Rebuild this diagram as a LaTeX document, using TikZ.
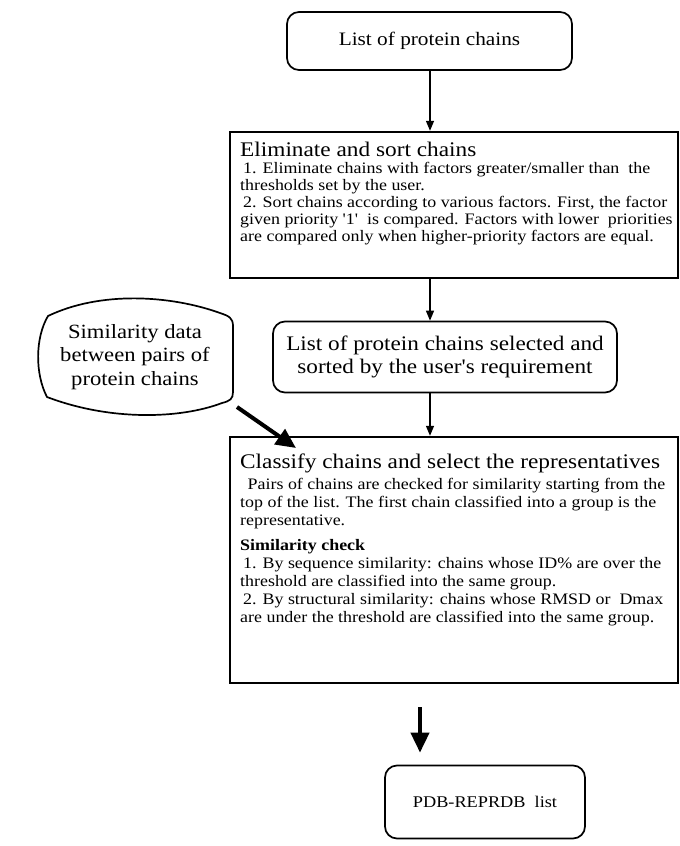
\documentclass[tikz,border=0pt]{standalone}
\usepackage{fontspec}
\setmainfont{Liberation Serif}[Ligatures=TeXOff, FakeStretch=1.12]
\usetikzlibrary{arrows.meta}
\begin{document}
\begin{tikzpicture}[x=1pt,y=-1pt,
  roundbox/.style={draw, line width=1.7pt, rounded corners=12pt, inner sep=0pt},
  squarebox/.style={draw, line width=2.4pt, inner sep=0pt},
  titlefont/.style={font=\fontsize{20.8}{24}\selectfont},
  bodyfont/.style={font=\fontsize{16}{17}\selectfont},
  txt/.style={inner sep=0pt, align=left, anchor=north west},
  thin/.style={line width=1.3pt, -{Triangle[length=10pt,width=8pt]}},
  thick/.style={line width=4pt, -{Triangle[length=20pt,width=18pt]}}
]
\useasboundingbox (0,0) rectangle (680,846);

% top box
\node[roundbox, font=\fontsize{19}{22}\selectfont, minimum width=285pt, minimum height=58pt] (b1) at (429.5,41) {List of protein chains};

% eliminate box
\node[squarebox, minimum width=448pt, minimum height=146pt] (b2) at (454,205) {};
\node[txt, titlefont] (b2t) at (240,141.5) {Eliminate and sort chains};
\node[txt, bodyfont] (b2b) at (240,162) {\hspace{3pt}1. Eliminate chains with factors greater/smaller than\ \ the\\
thresholds set by the user.\\
\hspace{3pt}2. Sort chains according to various factors. First, the factor\\
given priority '1'\ \ is compared. Factors with lower\ \ priorities\\
are compared only when higher-priority factors are equal.};

% selected list box
\node[roundbox, font=\fontsize{20.7}{23}\selectfont, align=center, minimum width=344pt, minimum height=71pt] (b3) at (445,357) {List of protein chains selected and\\ sorted by the user's requirement};

% similarity data (stored data)
\node[inner sep=0pt, minimum width=193pt, minimum height=120pt] (sd) at (137,356) {};
\draw[line width=1.7pt] (233,392) -- (233,326)
  .. controls (233,318) and (229,316) .. (220,313)
  .. controls (170,295) and (100,291) .. (48,316)
  .. controls (35,338) and (35,374) .. (47,397)
  .. controls (110,421) and (180,419) .. (222,403)
  .. controls (230,401) and (233,399) .. cycle;
\node[font=\fontsize{20.2}{23.5}\selectfont, align=center, inner sep=0pt] (sdt) at (135,357) {Similarity data\\ between pairs of\\ protein chains};

% classify box
\node[squarebox, minimum width=448pt, minimum height=246pt] (b4) at (454,560) {};
\node[txt, titlefont] (b4t) at (240,454) {Classify chains and select the representatives};
\node[txt, font=\fontsize{16}{18}\selectfont] (b4b) at (240,478) {\hspace{3pt}\ Pairs of chains are checked for similarity starting from the\\
top of the list. The first chain classified into a group is the\\
representative.\\[7pt]
\textbf{Similarity check}\\
\hspace{3pt}1. By sequence similarity: chains whose ID\% are over the\\
threshold are classified into the same group.\\
\hspace{3pt}2. By structural similarity: chains whose RMSD or\ \ Dmax\\
are under the threshold are classified into the same group.};

% final box
\node[roundbox, font=\fontsize{16.3}{20}\selectfont, minimum width=200pt, minimum height=73pt] (b5) at (485,802) {PDB-REPRDB\ \ list};

% connectors
\draw[thin] (b1.south -| 430,0) -- (b2.north -| 430,0);
\draw[thin] (b2.south -| 430,0) -- (b3.north -| 430,0);
\draw[thin] (b3.south -| 430,0) -- (b4.north -| 430,0);
\coordinate (sdarr) at (237,407);
\coordinate (b4arr) at (296,448);
\draw[thick] (sdarr) -- (b4arr);
\draw[thick, shorten >=12pt] (b4.south -| 420,0) ++(0,23) -- (b5.north -| 420,0);
\end{tikzpicture}
\end{document}
